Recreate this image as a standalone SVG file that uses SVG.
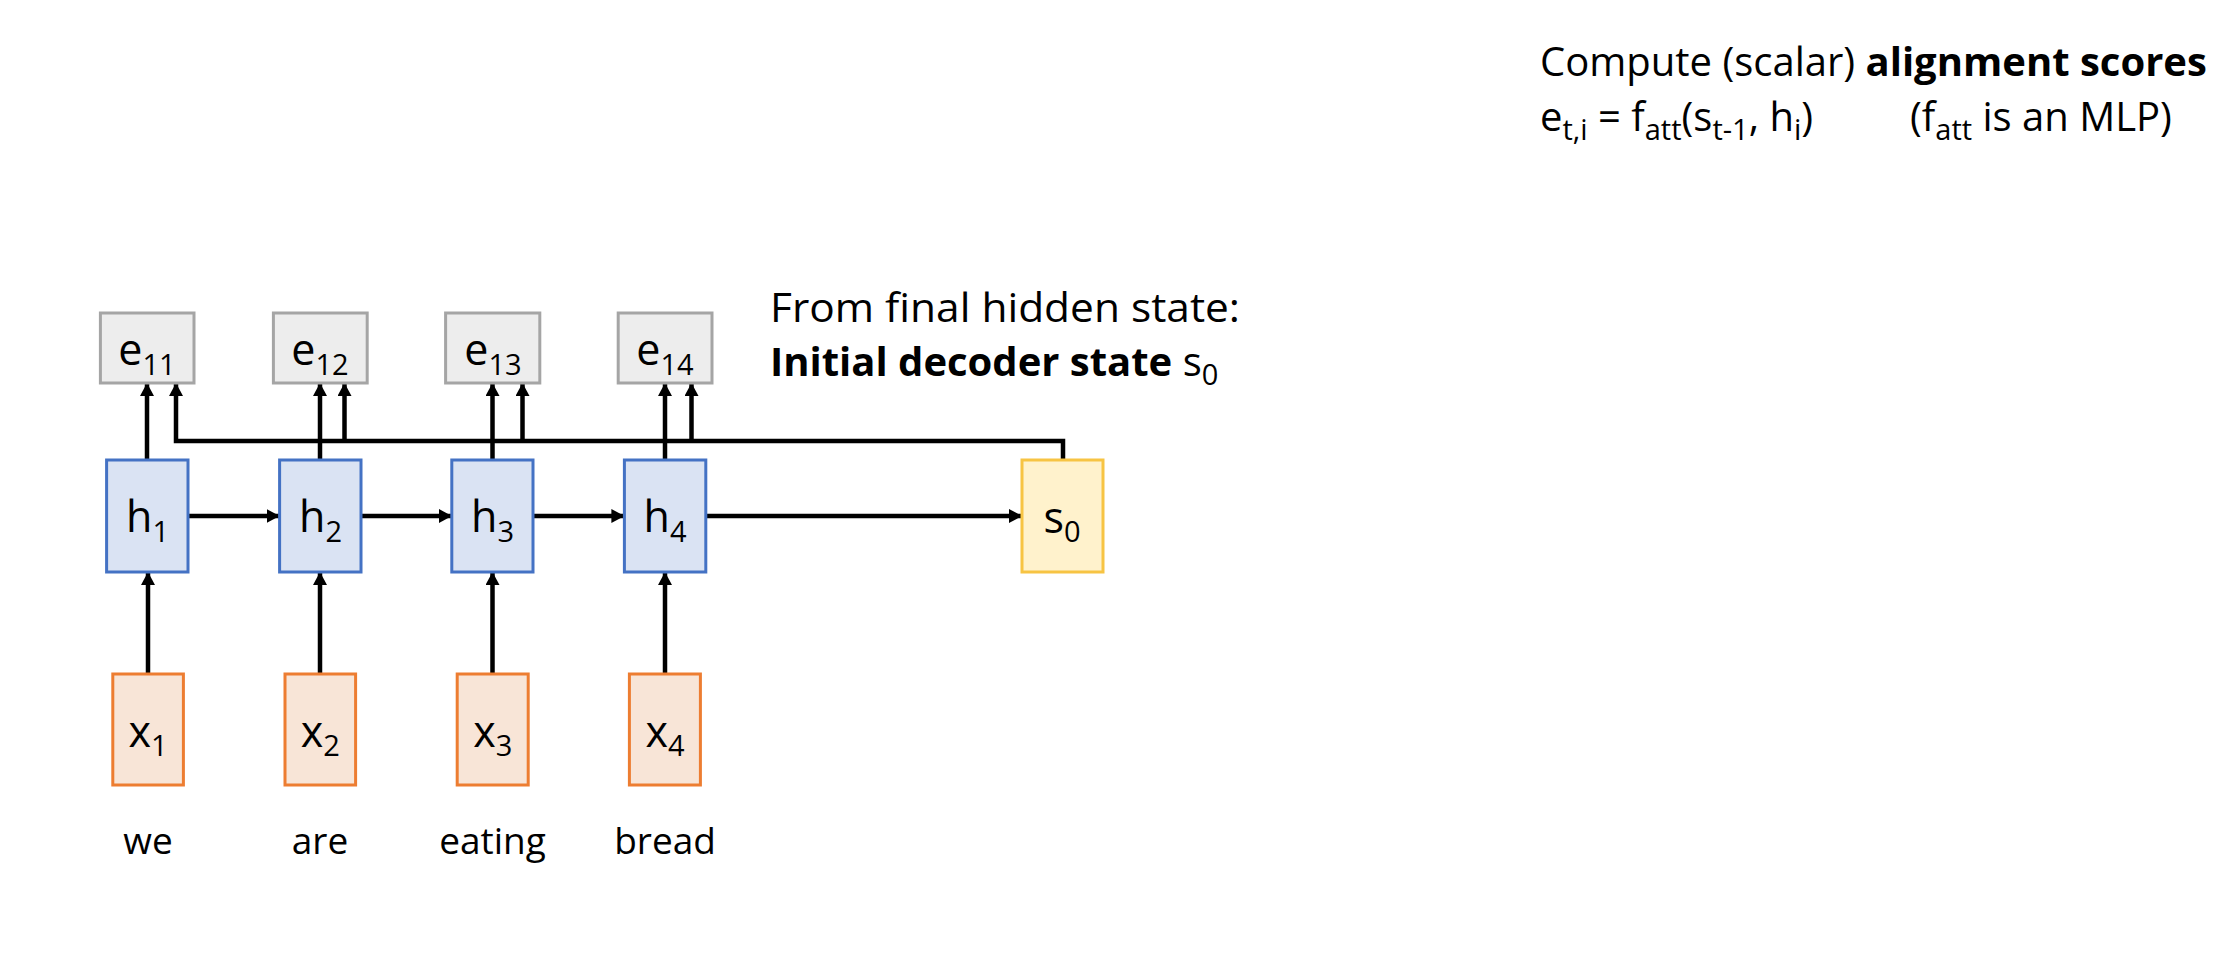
<svg xmlns="http://www.w3.org/2000/svg" width="2214" height="954" viewBox="0 0 2214 954">
<style>
  text { font-family: "Open Sans", "Noto Sans", "DejaVu Sans", sans-serif; fill: #000; }
  .lbl { font-size: 43px; text-anchor: middle; }
  .sub { font-size: 29px; }
  .word { font-size: 37px; text-anchor: middle; }
  .body { font-size: 40px; }
  .b { font-weight: bold; }
  .ebox { fill: #EDEDED; stroke: #A5A5A5; stroke-width: 3; }
  .hbox { fill: #DAE3F3; stroke: #4472C4; stroke-width: 3; }
  .xbox { fill: #F8E5D7; stroke: #ED7D31; stroke-width: 3; }
  .sbox { fill: #FFF2CC; stroke: #F7C443; stroke-width: 3; }
  .conn { fill: none; stroke: #000; stroke-width: 4.5; }
  .arr { marker-end: url(#ah); }
</style>
<defs>
  <marker id="ah" viewBox="0 0 13 14" refX="13" refY="7" markerWidth="13" markerHeight="14" markerUnits="userSpaceOnUse" orient="auto">
    <path d="M0,0 L13,7 L0,14 z" fill="#000"/>
  </marker>
</defs>
<rect width="2214" height="954" fill="#fff"/>

<g id="connectors">
  <path class="conn arr" d="M148 674 V572"/>
  <path class="conn arr" d="M320 674 V572"/>
  <path class="conn arr" d="M492.5 674 V572"/>
  <path class="conn arr" d="M665 674 V572"/>
  <path class="conn arr" d="M147 460 V383"/>
  <path class="conn arr" d="M320 460 V383"/>
  <path class="conn arr" d="M492.5 460 V383"/>
  <path class="conn arr" d="M665 460 V383"/>
  <path class="conn arr" d="M188 516 H279.6"/>
  <path class="conn arr" d="M361 516 H451.8"/>
  <path class="conn arr" d="M533 516 H624.4"/>
  <path class="conn arr" d="M705.8 516 H1022"/>
  <path class="conn arr" d="M1063 460 V441 H176 V383"/>
  <path class="conn arr" d="M344.5 441 V383"/>
  <path class="conn arr" d="M522.5 441 V383"/>
  <path class="conn arr" d="M691.5 441 V383"/>
</g>

<g id="e11"><rect class="ebox" x="100.4" y="313" width="93.6" height="70"/><text class="lbl" x="147" y="365">e<tspan class="sub" dy="10">11</tspan></text></g>
<g id="e12"><rect class="ebox" x="273.4" y="313" width="93.8" height="70"/><text class="lbl" x="320" y="365">e<tspan class="sub" dy="10">12</tspan></text></g>
<g id="e13"><rect class="ebox" x="445.6" y="313" width="94.2" height="70"/><text class="lbl" x="493" y="365">e<tspan class="sub" dy="10">13</tspan></text></g>
<g id="e14"><rect class="ebox" x="618.2" y="313" width="93.8" height="70"/><text class="lbl" x="665" y="365">e<tspan class="sub" dy="10">14</tspan></text></g>

<g id="h1"><rect class="hbox" x="106.6" y="460" width="81.4" height="112"/><text class="lbl" x="147.5" y="532">h<tspan class="sub" dy="10">1</tspan></text></g>
<g id="h2"><rect class="hbox" x="279.6" y="460" width="81.4" height="112"/><text class="lbl" x="320.5" y="532">h<tspan class="sub" dy="10">2</tspan></text></g>
<g id="h3"><rect class="hbox" x="451.8" y="460" width="81.2" height="112"/><text class="lbl" x="492.5" y="532">h<tspan class="sub" dy="10">3</tspan></text></g>
<g id="h4"><rect class="hbox" x="624.4" y="460" width="81.4" height="112"/><text class="lbl" x="665" y="532">h<tspan class="sub" dy="10">4</tspan></text></g>

<g id="s0"><rect class="sbox" x="1022" y="460" width="81" height="112"/><text class="lbl" x="1062" y="533">s<tspan class="sub" dy="9">0</tspan></text></g>

<g id="x1"><rect class="xbox" x="112.8" y="674" width="70.6" height="111"/><text class="lbl" x="148" y="747">x<tspan class="sub" dy="9">1</tspan></text></g>
<g id="x2"><rect class="xbox" x="285" y="674" width="70.6" height="111"/><text class="lbl" x="320.3" y="747">x<tspan class="sub" dy="9">2</tspan></text></g>
<g id="x3"><rect class="xbox" x="457.2" y="674" width="71" height="111"/><text class="lbl" x="492.7" y="747">x<tspan class="sub" dy="9">3</tspan></text></g>
<g id="x4"><rect class="xbox" x="629.4" y="674" width="71" height="111"/><text class="lbl" x="665" y="747">x<tspan class="sub" dy="9">4</tspan></text></g>

<g id="words">
  <text class="word" x="148" y="854">we</text>
  <text class="word" x="320" y="854">are</text>
  <text class="word" x="492.5" y="854">eating</text>
  <text class="word" x="665" y="854">bread</text>
</g>

<g id="note-s0">
  <text class="body" x="770" y="322" font-size="41" textLength="470" lengthAdjust="spacingAndGlyphs">From final hidden state:</text>
  <text class="body" x="770" y="376" font-size="40"><tspan class="b">Initial decoder state</tspan> s<tspan class="sub" dy="9">0</tspan></text>
</g>

<g id="note-scores">
  <text class="body" x="1540" y="76">Compute (scalar) <tspan class="b">alignment scores</tspan></text>
  <text class="body" x="1540" y="131">e<tspan class="sub" dy="9">t,i</tspan><tspan dy="-9"> = f</tspan><tspan class="sub" dy="9">att</tspan><tspan dy="-9">(s</tspan><tspan class="sub" dy="9">t-1</tspan><tspan dy="-9">, h</tspan><tspan class="sub" dy="9">i</tspan><tspan dy="-9">)</tspan></text>
  <text class="body" x="1910" y="131">(f<tspan class="sub" dy="9">att</tspan><tspan dy="-9"> is an MLP)</tspan></text>
</g>
</svg>
